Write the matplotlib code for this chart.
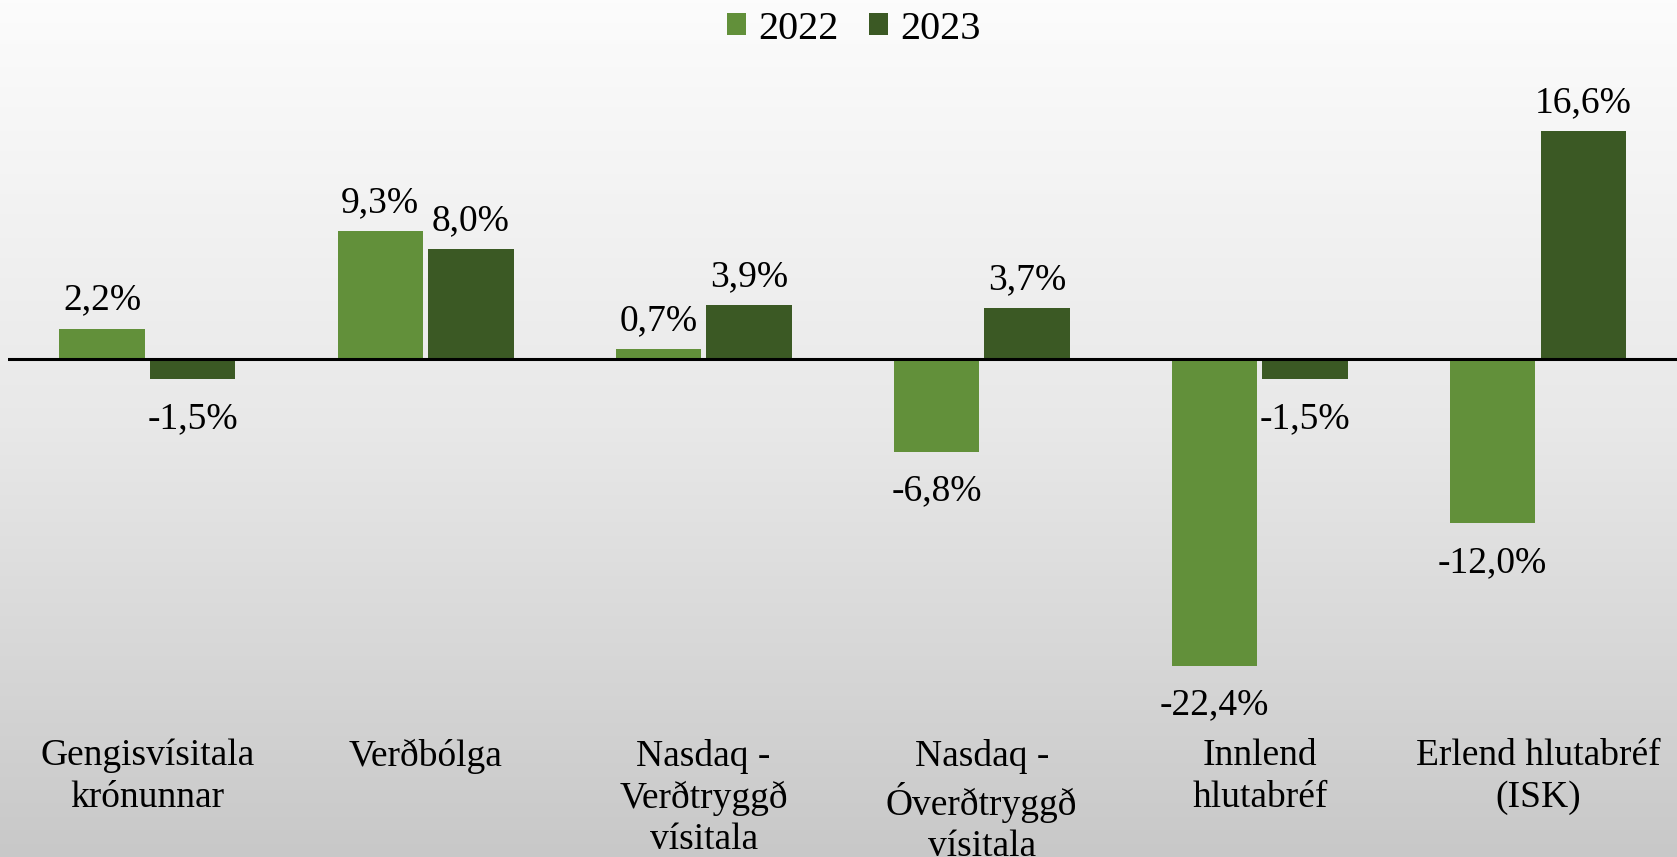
import matplotlib.pyplot as plt
import numpy as np
from matplotlib.colors import LinearSegmentedColormap

# Data
categories = ['Gengisvísitala\nkrónunnar', 'Verðbólga', 'Nasdaq -\nVerðtryggð\nvísitala',
              'Nasdaq -\nÓverðtryggð\nvísitala', 'Innlend\nhlutabréf', 'Erlend hlutabréf\n(ISK)']
values_2022 = [2.2, 9.3, 0.7, -6.8, -22.4, -12.0]
values_2023 = [-1.5, 8.0, 3.9, 3.7, -1.5, 16.6]
series_labels = ['2022', '2023']

color_2022 = '#62903A'
color_2023 = '#3B5924'

plt.rcParams['font.family'] = ['Liberation Serif', 'DejaVu Serif']

fig = plt.figure(figsize=(16.77, 8.57), dpi=100)

# Background gradient (white at top to light grey at bottom)
bg = fig.add_axes([0, 0, 1, 1], zorder=0)
grad = np.linspace(0, 1, 256).reshape(-1, 1)
cmap = LinearSegmentedColormap.from_list('bg', [(0, '#fcfcfc'), (0.5, '#e8e8e8'), (1, '#c8c8c8')])
bg.imshow(grad, aspect='auto', cmap=cmap, extent=[0, 1, 0, 1], origin='upper')
bg.axis('off')

ax = fig.add_axes([0.005, 1 - 700 / 857, 0.995, 640 / 857], zorder=1)
ax.patch.set_alpha(0)

x = np.arange(len(categories))
w = 0.307
off = 0.163
b1 = ax.bar(x - off, values_2022, w, color=color_2022, label=series_labels[0])
b2 = ax.bar(x + off, values_2023, w, color=color_2023, label=series_labels[1])

ax.axhline(0, color='black', linewidth=2.2, zorder=3)

ax.set_xlim(-0.5, 5.5)
ax.set_ylim(-24.9, 21.8)

def fmt(v):
    return f'{v:.1f}%'.replace('.', ',')

for bars, vals in [(b1, values_2022), (b2, values_2023)]:
    for rect, v in zip(bars, vals):
        cx = rect.get_x() + rect.get_width() / 2
        if v >= 0:
            ax.annotate(fmt(v), (cx, v), xytext=(0, 8), textcoords='offset points',
                        ha='center', va='bottom', fontsize=27)
        else:
            ax.annotate(fmt(v), (cx, v), xytext=(0, -16), textcoords='offset points',
                        ha='center', va='top', fontsize=27)

ax.set_xticks(x)
ax.set_xticklabels(categories, fontsize=27, linespacing=1.25)
ax.tick_params(axis='x', length=0, pad=28)
ax.set_yticks([])
for s in ax.spines.values():
    s.set_visible(False)

fig.legend(loc='upper center', bbox_to_anchor=(0.509, 1.03), ncol=2, frameon=False,
           fontsize=29, handlelength=0.48, handleheight=0.48, handletextpad=0.3,
           columnspacing=0.75)

plt.savefig('out.png', dpi=100)
